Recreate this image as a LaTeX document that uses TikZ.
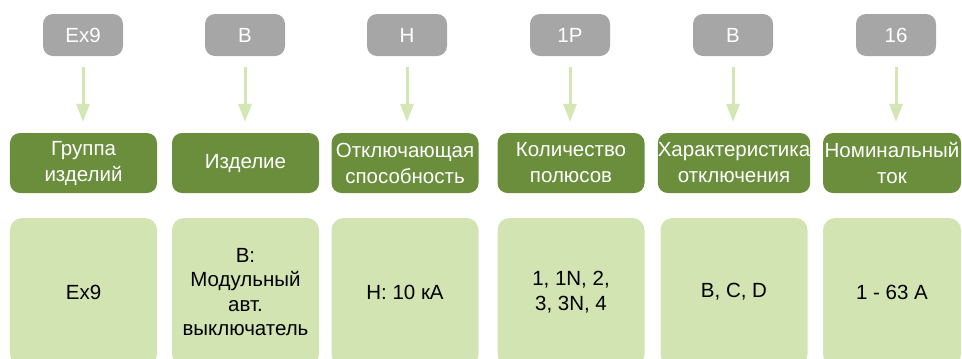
\documentclass[tikz,border=0pt]{standalone}
\usepackage{fontspec}
\setmainfont{Liberation Sans}
\usetikzlibrary{arrows.meta}
\definecolor{greybox}{HTML}{A6A6A6}
\definecolor{darkgreen}{HTML}{6A8E3C}
\definecolor{lightgreen}{HTML}{D2E4B1}
\definecolor{arrowgreen}{HTML}{D3E6B3}
\tikzset{
  codebox/.style={fill=greybox, rounded corners=10bp, minimum width=80bp, minimum height=42bp,
    inner sep=0pt, text=white, font=\fontsize{20.5bp}{25bp}\selectfont},
  headbox/.style={fill=darkgreen, rounded corners=10bp, minimum width=147bp, minimum height=60bp,
    inner sep=0pt, text=white, align=center, font=\fontsize{20.5bp}{26bp}\selectfont},
  bodybox/.style={fill=lightgreen, rounded corners=12bp, minimum width=147bp, minimum height=148bp,
    inner sep=0pt, text=black, align=center, font=\fontsize{20.5bp}{24.5bp}\selectfont},
  pointer/.style={draw=arrowgreen, line width=3bp, shorten <=11bp, shorten >=11bp,
    -{Triangle[width=13bp,length=18bp]}},
}
\begin{document}
\begin{tikzpicture}[x=1bp,y=-1bp]
\useasboundingbox (0,0) rectangle (962,358);
\begin{scope}
\clip (0,0) rectangle (962,358);
% grey code boxes
\node[codebox] (g1) at (83,35) {Ex9};
\node[codebox] (g2) at (245,35) {B};
\node[codebox] (g3) at (407,35) {H};
\node[codebox] (g4) at (570,35) {1P};
\node[codebox] (g5) at (733,35) {B};
\node[codebox] (g6) at (896,35) {16};
% header boxes
\node[headbox] (h1) at (83.5,163) {Группа\\изделий};
\node[headbox] (h2) at (245.5,163) {Изделие};
\node[headbox] (h3) at (405,163) {Отключающая\\способность};
\node[headbox] (h4) at (571,163) {Количество\\полюсов};
\node[headbox] (h5) at (734,163) {Характеристика\\отключения};
\node[headbox, minimum width=138bp] (h6) at (892,163) {Номинальный\\ток};
% body boxes
\node[bodybox] (b1) at (83.5,292) {Ex9};
\node[bodybox] (b2) at (245.5,292) {B:\\Модульный\\авт.\\выключатель};
\node[bodybox] (b3) at (405,292) {H: 10 кА};
\node[bodybox] (b4) at (571,292) {1, 1N, 2,\\3, 3N, 4};
\node[bodybox] (b5) at (734,292) {B, C, D};
\node[bodybox, minimum width=138bp] (b6) at (892,292) {1 - 63 A};
% arrows
\foreach \i in {1,...,6}{
  \draw[pointer] (g\i.south) -- (g\i.south |- h\i.north);
}
\end{scope}
\end{tikzpicture}
\end{document}
